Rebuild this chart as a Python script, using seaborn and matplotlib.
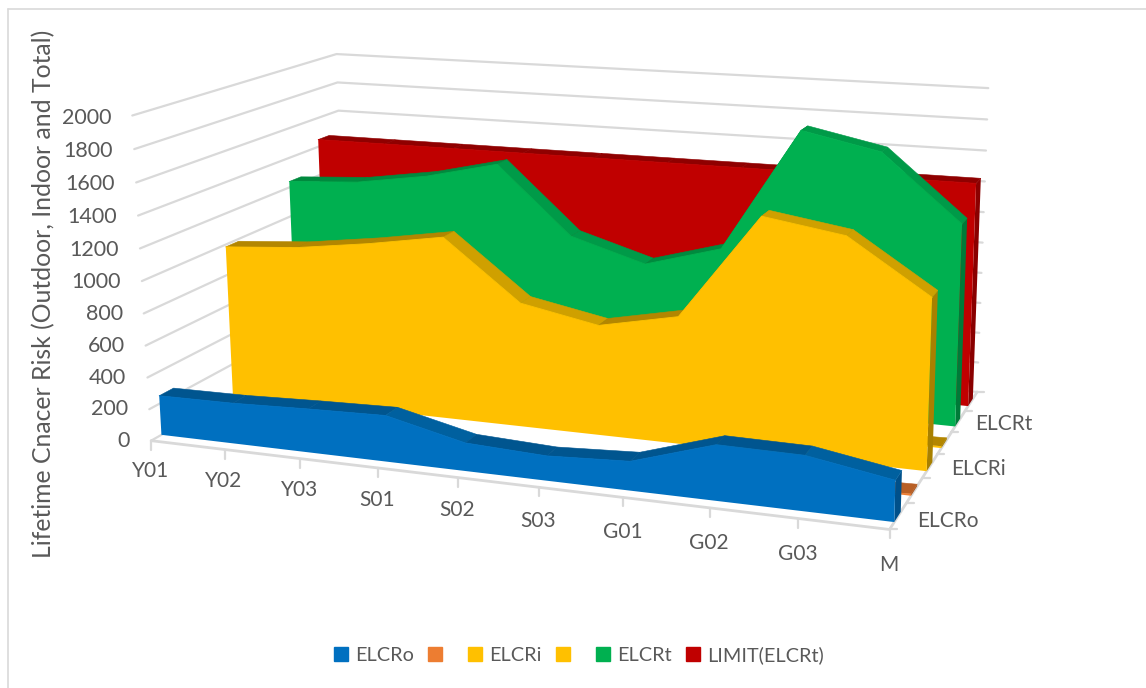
import numpy as np
import pandas as pd
import matplotlib
matplotlib.use("Agg")
import matplotlib.pyplot as plt
from matplotlib.patches import Patch
import seaborn as sns

categories = ["Y01", "Y02", "Y03", "S01", "S02", "S03", "G01", "G02", "G03", "M"]
series_names = ["ELCRo", "", "ELCRi", "", "ELCRt", "LIMIT(ELCRt)"]
value_ticks = [0, 200, 400, 600, 800, 1000, 1200, 1400, 1600, 1800, 2000]
depth_labels = ["ELCRo", "ELCRi", "ELCRt"]

elcr_o = [250, 255, 272, 285, 172, 150, 175, 330, 325, 240]
orange_flat = [0, 0, 0, 0, 0, 0, 0, 0, 0, 12]
elcr_i = [985, 1020, 1085, 1165, 790, 695, 795, 1445, 1367, 1045]
yellow_flat = [0, 0, 0, 0, 0, 0, 0, 0, 0, 12]
elcr_t = [1240, 1270, 1344, 1457, 1017, 872, 1012, 1800, 1697, 1285]
limit_t = [1450, 1450, 1450, 1450, 1450, 1450, 1450, 1450, 1450, 1450]

front_colors = ["#0070C0", "#ED7D31", "#FFC000", "#FFC000", "#00B050", "#C00000"]
flat_colors = ["#00558F", "#B85F25", "#B38600", "#B38600", "#008A3E", "#8F0000"]
down_colors = ["#00609F", "#C4682A", "#CFA000", "#CFA000", "#009A48", "#8F0000"]
side_colors = ["#00508A", "#A8561F", "#A88000", "#A88000", "#007A38", "#8A0000"]

# category, depth slot, value -> picture pixel, fitted on the corners of the box
corners = [
    (0, 0, 0, 151, 437), (0, 0, 2000, 132, 117),
    (9, 0, 0, 890, 532), (9, 6, 0, 977, 389),
    (9, 6, 2000, 988, 89), (0, 6, 2000, 337, 52),
    (0, 6, 0, 346, 334),
]
rows, rhs = [], []
for u, v, z, px, py in corners:
    rows.append([u, v, z, 1, 0, 0, 0, 0, -px * u, -px * v, -px * z])
    rows.append([0, 0, 0, 0, u, v, z, 1, -py * u, -py * v, -py * z])
    rhs += [px, py]
coef = np.linalg.lstsq(np.array(rows, float), np.array(rhs, float), rcond=None)[0]
P = np.append(coef, 1.0).reshape(3, 4)


def project(u, v, z):
    u, v, z = np.broadcast_arrays(np.asarray(u, float), np.asarray(v, float), np.asarray(z, float))
    pts = np.stack([u, v, z, np.ones_like(u, dtype=float)])
    res = P @ pts.reshape(4, -1)
    return (res[0] / res[2]).reshape(u.shape), (res[1] / res[2]).reshape(u.shape)


sns.set_theme(style="white")
plt.rcParams["font.family"] = ["Lato", "DejaVu Sans"]
text_color = "#595959"
line_color = "#D9D9D9"

fig = plt.figure(figsize=(11.46, 6.88), dpi=100)
ax = fig.add_axes([0, 0, 1, 1])

# walls
grid_rows = []
for z in value_ticks:
    xs, ys = project([0, 0, 9], [0, 6, 6], [z, z, z])
    for i in range(3):
        grid_rows.append({"x": xs[i], "y": ys[i], "level": z})
grid_df = pd.DataFrame(grid_rows)
sns.lineplot(data=grid_df, x="x", y="y", units="level", estimator=None, sort=False,
             color=line_color, linewidth=1.6, ax=ax, legend=False, zorder=1)

# floor edges and ticks
xs, ys = project([0, 9, 9], [0, 0, 6], [0, 0, 0])
ax.plot(xs, ys, color=line_color, lw=2, zorder=1)
cat_idx = np.arange(len(categories))
tx, ty = project(cat_idx, 0, 0)
for i, name in enumerate(categories):
    ax.plot([tx[i], tx[i]], [ty[i], ty[i] + 9], color=line_color, lw=1.6, zorder=1)
    ax.text(tx[i] - 1, ty[i] + 30.5 + 5.5 * i / 9, name, ha="center", va="center", fontsize=15, color=text_color)
dx, dy = project(9, np.arange(7), 0)
for i in range(7):
    ax.plot([dx[i], dx[i] + 7], [dy[i], dy[i]], color=line_color, lw=1.6, zorder=1)
for slot, name, off_x, off_y in zip([0.5, 2.5, 4.5], depth_labels, [50, 48, 46], [5, 3, 2]):
    lx, ly = project(9, slot, 0)
    ax.text(lx + off_x, ly + off_y, name, ha="center", va="center", fontsize=15, color=text_color)

# value labels
for z in value_ticks:
    lx, ly = project(0, 0, z)
    ax.text(lx - 21, ly + 2.5 * z / 2000, str(z), ha="right", va="center", fontsize=15.5, color=text_color)

# area ribbons, back to front
all_values = [elcr_o, orange_flat, elcr_i, yellow_flat, elcr_t, limit_t]
front_depth, back_depth = 0.27, 0.65
long_rows = []
for s in range(5, -1, -1):
    vals = np.array(all_values[s], float)
    vf, vb = s + front_depth, s + back_depth
    base = 2 * (5 - s) + 2

    # end cap on the right
    cx, cy = project([9, 9, 9, 9], [vf, vb, vb, vf], [0, 0, vals[-1], vals[-1]])
    ax.fill(cx, cy, color=side_colors[s], lw=0, zorder=base)

    # top of the ribbon, one quad per segment; empty stretches draw nothing
    for i in range(len(vals) - 1):
        if vals[i] == 0 and vals[i + 1] == 0:
            continue
        qx, qy = project([i, i + 1, i + 1, i], [vf, vf, vb, vb],
                         [vals[i], vals[i + 1], vals[i + 1], vals[i]])
        col = down_colors[s] if vals[i + 1] < vals[i] - 60 else flat_colors[s]
        ax.fill(qx, qy, color=col, ec=col, lw=0.4, zorder=base)

    # front face
    fx, fy = project(cat_idx, vf, vals)
    bx, by = project(cat_idx, vf, 0)
    ax.fill(np.r_[fx, bx[::-1]], np.r_[fy, by[::-1]], color=front_colors[s], lw=0, zorder=base + 1)
    if vals.min() > 0:
        long_rows.append(pd.DataFrame({"x": fx, "y": fy, "series": s}))

edges = pd.concat(long_rows)
for s, part in edges.groupby("series"):
    sns.lineplot(data=part, x="x", y="y", estimator=None, sort=False, color=front_colors[s],
                 linewidth=0.6, ax=ax, legend=False, zorder=2 * (5 - s) + 3)

# chart frame, top and left only
ax.plot([8, 1146], [9, 9], color=line_color, lw=1.2, zorder=0)
ax.plot([8, 8], [9, 688], color=line_color, lw=1.2, zorder=0)

ax.text(44, 294, "Lifetime Cnacer Risk (Outdoor, Indoor and Total)", rotation=90,
        ha="center", va="center", fontsize=17.8, color=text_color)

handles = [Patch(color=c, label=n if n else " ") for c, n in zip(front_colors, series_names)]
ax.legend(handles=handles, ncol=6, loc="center", bbox_to_anchor=(579 / 1146, 1 - 655 / 688),
          frameon=False, fontsize=14.3, labelcolor=text_color, handlelength=0.7, handleheight=0.7,
          handletextpad=0.35, columnspacing=0.72, borderpad=0)

ax.set_xlim(0, 1146)
ax.set_ylim(688, 0)
ax.axis("off")

fig.savefig("out.png", dpi=100)
